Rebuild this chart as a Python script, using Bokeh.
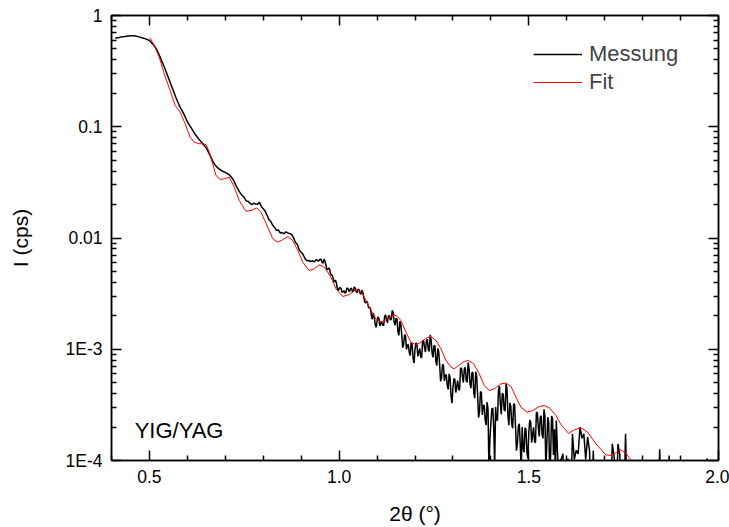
from bokeh.plotting import figure
from bokeh.models import Range1d, LogAxis, LinearAxis, FixedTicker, Legend, LegendItem, Label
from bokeh.embed import file_html
from bokeh.resources import INLINE

# ---------------- data ----------------
# Messung: 2theta (deg) and log10 of intensity (cps)
mess_x = [
    0.41, 0.42, 0.43, 0.44, 0.45, 0.46, 0.47, 0.48, 0.49, 0.50,
    0.51, 0.52, 0.53, 0.54, 0.55, 0.56, 0.57, 0.58, 0.59, 0.60,
    0.61, 0.62, 0.63, 0.64, 0.65, 0.66, 0.67, 0.68, 0.69, 0.70,
    0.71, 0.72, 0.73, 0.74,
    0.750, 0.755, 0.760, 0.765, 0.770, 0.775, 0.780, 0.785, 0.790, 0.795,
    0.800, 0.805, 0.810, 0.815, 0.820, 0.825, 0.830, 0.835, 0.840, 0.845,
    0.850, 0.855, 0.860, 0.865, 0.870, 0.875, 0.880, 0.885, 0.890, 0.895,
    0.900, 0.905, 0.910, 0.915, 0.920, 0.925, 0.930, 0.935, 0.940, 0.945,
    0.950, 0.955, 0.960, 0.965, 0.970, 0.975, 0.980, 0.985, 0.990, 0.995,
    1.000, 1.005, 1.010, 1.015, 1.020, 1.025, 1.030, 1.035, 1.040, 1.045,
    1.050, 1.055, 1.060, 1.065, 1.070, 1.075, 1.080, 1.085, 1.090, 1.095,
    1.100, 1.105, 1.110, 1.115, 1.120, 1.125, 1.130, 1.135, 1.140, 1.145,
    1.150, 1.155, 1.160, 1.165, 1.170, 1.175, 1.180, 1.185, 1.190, 1.195,
    1.200, 1.205, 1.210, 1.215, 1.220, 1.225, 1.230, 1.235, 1.240, 1.245,
    1.250, 1.255, 1.260, 1.265, 1.270, 1.275, 1.280, 1.285, 1.290, 1.295,
    1.300, 1.305, 1.310, 1.315, 1.320, 1.325, 1.330, 1.335, 1.340, 1.345,
    1.350, 1.355, 1.360, 1.365, 1.370, 1.375, 1.380, 1.385, 1.390, 1.395,
    1.400, 1.405, 1.410, 1.415, 1.420, 1.425, 1.430, 1.435, 1.440, 1.445,
    1.450, 1.455, 1.460, 1.465, 1.470, 1.475, 1.480, 1.485, 1.490, 1.495,
    1.500, 1.505, 1.510, 1.515, 1.520, 1.525, 1.530, 1.535, 1.540, 1.545,
    1.550, 1.555, 1.560, 1.565, 1.570, 1.575, 1.580, 1.585, 1.590, 1.595,
    1.600, 1.605, 1.610, 1.615, 1.620, 1.625, 1.630, 1.635, 1.640, 1.645,
    1.650, 1.655, 1.660, 1.665, 1.670, 1.675, 1.715, 1.720, 1.725, 1.730,
    1.735, 1.740, 1.745, 1.750, 1.755, 1.760, 1.840, 1.845, 1.850, 1.865,
    1.870, 1.875, 1.965, 1.970, 1.975,
]
mess_log = [
    -0.205, -0.198, -0.190, -0.186, -0.183, -0.183, -0.190, -0.200, -0.210, -0.225,
    -0.260, -0.310, -0.390, -0.470, -0.560, -0.650, -0.740, -0.820, -0.880, -0.955,
    -1.010, -1.065, -1.110, -1.150, -1.190, -1.260, -1.330, -1.370, -1.395, -1.410,
    -1.430, -1.470, -1.540, -1.600,
    -1.636, -1.667, -1.670, -1.687, -1.701, -1.687, -1.694, -1.697, -1.679, -1.718,
    -1.738, -1.758, -1.794, -1.835, -1.852, -1.886, -1.905, -1.931, -1.928, -1.955,
    -1.951, -1.962, -1.945, -1.954, -1.961, -1.969, -1.999, -2.040, -2.059, -2.108,
    -2.128, -2.148, -2.184, -2.205, -2.202, -2.211, -2.205, -2.213, -2.193, -2.209,
    -2.192, -2.220, -2.190, -2.240, -2.283, -2.283, -2.328, -2.375, -2.378, -2.448,
    -2.455, -2.453, -2.483, -2.492, -2.452, -2.470, -2.455, -2.478, -2.440, -2.483,
    -2.463, -2.495, -2.470, -2.530, -2.583, -2.583, -2.625, -2.695, -2.675, -2.775,
    -2.750, -2.725, -2.765, -2.785, -2.705, -2.735, -2.700, -2.735, -2.650, -2.755,
    -2.723, -2.839, -2.748, -2.868, -2.961, -2.880, -2.961, -3.031, -2.939, -3.083,
    -3.002, -2.956, -3.027, -3.067, -2.927, -2.984, -2.924, -3.005, -2.870, -3.034,
    -2.967, -3.106, -2.992, -3.142, -3.259, -3.145, -3.229, -3.324, -3.221, -3.422,
    -3.348, -3.269, -3.333, -3.363, -3.173, -3.246, -3.176, -3.280, -3.120, -3.311,
    -3.212, -3.391, -3.202, -3.407, -3.564, -3.390, -3.504, -3.634, -3.476, -4.100,
    -3.668, -3.529, -4.050, -3.643, -3.368, -3.486, -3.396, -3.545, -3.310, -3.596,
    -3.482, -3.671, -3.492, -3.692, -3.844, -3.670, -4.100, -3.889, -3.706, -3.927,
    -3.748, -3.654, -3.768, -3.828, -3.568, -3.696, -3.616, -3.770, -3.540, -4.100,
    -3.610, -4.100, -3.600, -3.950, -4.100, -3.870, -4.100, -3.990, -3.940, -4.500,
    -3.990, -3.990, -4.500, -3.760, -3.990, -3.910, -3.940, -3.700, -3.800, -3.760,
    -3.990, -3.790, -3.910, -4.500, -3.910, -4.500, -4.500, -3.850, -3.970, -4.500,
    -3.850, -3.950, -4.500, -4.500, -3.760, -4.500, -4.500, -3.900, -4.500, -4.500,
    -3.955, -4.500, -4.500, -3.980, -4.500,
]
# Messung: further points read between the ones above (noisy part)
mess_x_mid = [
    0.9525, 0.9575, 0.9625, 0.9675, 0.9725, 0.9775, 0.9825, 0.9875, 0.9925, 0.9975,
    1.0025, 1.0075, 1.0125, 1.0175, 1.0225, 1.0275, 1.0325, 1.0375, 1.0425, 1.0475,
    1.0525, 1.0575, 1.0625, 1.0675, 1.0725, 1.0775, 1.0825, 1.0875, 1.0925, 1.0975,
    1.1025, 1.1075, 1.1125, 1.1175, 1.1225, 1.1275, 1.1325, 1.1375, 1.1425, 1.1475,
    1.1525, 1.1575, 1.1625, 1.1675, 1.1725, 1.1775, 1.1825, 1.1875, 1.1925, 1.1975,
    1.2025, 1.2075, 1.2125, 1.2175, 1.2225, 1.2275, 1.2325, 1.2375, 1.2425, 1.2475,
    1.2525, 1.2575, 1.2625, 1.2675, 1.2725, 1.2775, 1.2825, 1.2875, 1.2925, 1.2975,
    1.3025, 1.3075, 1.3125, 1.3175, 1.3225, 1.3275, 1.3325, 1.3375, 1.3425, 1.3475,
    1.3525, 1.3575, 1.3625, 1.3675, 1.3725, 1.3775, 1.3825, 1.3875, 1.3925, 1.3975,
    1.4025, 1.4075, 1.4125, 1.4175, 1.4225, 1.4275, 1.4325, 1.4375, 1.4425, 1.4475,
    1.4525, 1.4575, 1.4625, 1.4675, 1.4725, 1.4775, 1.4825, 1.4875, 1.4925, 1.4975,
    1.5025, 1.5075, 1.5125, 1.5175, 1.5225, 1.5275, 1.5325, 1.5375, 1.5425, 1.5475,
    1.5525, 1.5575, 1.5625, 1.5675, 1.5725, 1.5775,
]
mess_log_mid = [
    -2.191, -2.227, -2.205, -2.282, -2.268, -2.328, -2.342, -2.397, -2.398, -2.474,
    -2.444, -2.488, -2.473, -2.494, -2.451, -2.483, -2.452, -2.481, -2.452, -2.493,
    -2.464, -2.505, -2.490, -2.577, -2.568, -2.626, -2.630, -2.730, -2.705, -2.803,
    -2.708, -2.790, -2.755, -2.785, -2.690, -2.763, -2.698, -2.733, -2.673, -2.784,
    -2.727, -2.875, -2.772, -2.987, -2.867, -3.002, -2.960, -3.057, -2.957, -3.124,
    -2.943, -3.064, -2.993, -3.078, -2.920, -3.026, -2.910, -3.019, -2.916, -3.073,
    -2.970, -3.148, -3.023, -3.289, -3.136, -3.286, -3.233, -3.361, -3.256, -3.484,
    -3.265, -3.389, -3.282, -3.367, -3.166, -3.299, -3.162, -3.299, -3.172, -3.350,
    -3.206, -3.440, -3.240, -3.614, -3.381, -3.591, -3.505, -3.683, -3.540, -3.800,
    -3.535, -3.700, -3.520, -3.634, -3.331, -3.585, -3.407, -3.556, -3.357, -3.683,
    -3.513, -3.710, -3.496, -3.912, -3.693, -3.860, -3.700, -3.926, -3.720, -3.980,
    -3.637, -3.839, -3.702, -3.842, -3.568, -3.784, -3.597, -3.800, -3.600, -3.850,
    -3.660, -3.950, -3.620, -3.720, -3.640, -4.100,
]

# Fit: 2theta (deg) and log10 of intensity (cps)
fit_x = [
    0.501, 0.513, 0.526, 0.539, 0.5546, 0.5633, 0.5678, 0.5745, 0.5810, 0.5942,
    0.6073, 0.6182, 0.6314, 0.6404, 0.6491, 0.6578, 0.6667, 0.6754, 0.6868, 0.6973,
    0.7105, 0.7237, 0.7368, 0.7500, 0.7545, 0.7677, 0.783, 0.794, 0.803, 0.812,
    0.825, 0.838, 0.851, 0.8645, 0.8775, 0.891, 0.904, 0.921, 0.9345, 0.9477,
    0.961, 0.9785, 0.9917, 1.0094, 1.027, 1.047, 1.062, 1.0795, 1.097, 1.112,
    1.128, 1.144, 1.153, 1.163, 1.1762, 1.1894, 1.2026, 1.2158, 1.2290, 1.2421,
    1.2553, 1.2685, 1.2817, 1.2949, 1.3035, 1.3167, 1.3299, 1.3415, 1.3547, 1.3694,
    1.3826, 1.3958, 1.4090, 1.4266, 1.4398, 1.4530, 1.4662, 1.4793, 1.4952, 1.5102,
    1.5276, 1.5407, 1.5539, 1.5716, 1.585, 1.605, 1.6198, 1.6375, 1.655, 1.677,
    1.703, 1.718, 1.741, 1.756, 1.769, 1.780,
]
fit_log = [
    -0.200, -0.270, -0.375, -0.524, -0.674, -0.764, -0.809, -0.839, -0.869, -0.973,
    -1.094, -1.139, -1.153, -1.153, -1.160, -1.229, -1.333, -1.438, -1.474, -1.468,
    -1.453, -1.543, -1.663, -1.738, -1.759, -1.753, -1.729, -1.768, -1.835, -1.903,
    -2.007, -2.037, -2.016, -1.987, -2.022, -2.112, -2.217, -2.292, -2.277, -2.241,
    -2.262, -2.352, -2.457, -2.526, -2.508, -2.457, -2.502, -2.622, -2.727, -2.757,
    -2.727, -2.688, -2.705, -2.742, -2.847, -2.937, -2.960, -2.937, -2.901, -2.885,
    -2.921, -2.996, -3.101, -3.161, -3.176, -3.140, -3.110, -3.101, -3.131, -3.221,
    -3.326, -3.371, -3.355, -3.311, -3.305, -3.335, -3.431, -3.521, -3.566, -3.551,
    -3.515, -3.506, -3.526, -3.596, -3.680, -3.757, -3.724, -3.706, -3.745, -3.850,
    -3.949, -3.955, -3.904, -3.934, -3.994, -4.080,
]

x_ticks = [0.5, 1.0, 1.5, 2.0]
x_tick_labels = ["0.5", "1.0", "1.5", "2.0"]
x_minor = [0.4, 0.6, 0.7, 0.8, 0.9, 1.1, 1.2, 1.3, 1.4, 1.6, 1.7, 1.8, 1.9]
y_ticks = [1e-4, 1e-3, 1e-2, 1e-1, 1.0]
y_tick_labels = ["1E-4", "1E-3", "0.01", "0.1", "1"]
y_minor = [m * d for d in (1e-4, 1e-3, 1e-2, 1e-1) for m in range(2, 10)]

series_names = ["Messung", "Fit"]
annotation_text = "YIG/YAG"

# ---------------- figure ----------------
FONT = "Liberation Sans"
pts = sorted(zip(mess_x + mess_x_mid, mess_log + mess_log_mid))
mx = [a for a, _ in pts]
my = [10 ** b for _, b in pts]
fy = [10 ** v for v in fit_log]

p = figure(width=729, height=527, x_range=Range1d(0.4, 2.0), y_range=Range1d(1e-4, 1.0),
           y_axis_type="log", output_backend="svg", toolbar_location=None,
           min_border_left=111, min_border_right=11, min_border_top=15, min_border_bottom=67)
p.xgrid.visible = False
p.ygrid.visible = False
p.outline_line_color = "black"
p.outline_line_width = 1.5
p.background_fill_color = "white"
p.border_fill_color = "white"


def style_axis(ax):
    ax.axis_line_width = 1.5
    ax.axis_line_color = "black"
    ax.major_tick_in = 10
    ax.major_tick_out = 0
    ax.minor_tick_in = 5
    ax.minor_tick_out = 0
    ax.major_tick_line_width = 1.5
    ax.minor_tick_line_width = 1.5
    ax.major_tick_line_color = "black"
    ax.minor_tick_line_color = "black"
    ax.major_label_text_font = FONT
    ax.major_label_text_font_size = "17.5px"
    ax.major_label_text_color = "black"
    ax.axis_label_text_font = FONT
    ax.axis_label_text_font_size = "21px"
    ax.axis_label_text_font_style = "normal"
    ax.axis_label_text_color = "black"


xa = p.xaxis[0]
ya = p.yaxis[0]
style_axis(xa)
style_axis(ya)
xa.ticker = FixedTicker(ticks=x_ticks, minor_ticks=x_minor)
xa.major_label_overrides = {t: l for t, l in zip(x_ticks, x_tick_labels)}
xa.axis_label = "2θ (°)"
xa.major_label_standoff = 9
xa.axis_label_standoff = 16
ya.ticker = FixedTicker(ticks=y_ticks, minor_ticks=y_minor)
ya.major_label_overrides = {t: l for t, l in zip(y_ticks, y_tick_labels)}
ya.axis_label = "I (cps)"
ya.major_label_standoff = 9
ya.axis_label_standoff = 31

# mirrored tick marks on the top and right edges (no labels)
top = LinearAxis(ticker=FixedTicker(ticks=x_ticks, minor_ticks=x_minor))
style_axis(top)
top.major_label_text_font_size = "1px"
top.major_label_text_color = None
top.major_label_standoff = 0
p.add_layout(top, "above")

right = LogAxis(ticker=FixedTicker(ticks=y_ticks, minor_ticks=y_minor))
style_axis(right)
right.major_label_text_font_size = "1px"
right.major_label_text_color = None
right.major_label_standoff = 0
p.add_layout(right, "right")

r_mess = p.line(mx, my, line_color="black", line_width=1.5)
r_fit = p.line(fit_x, fy, line_color="red", line_width=1.0)

legend = Legend(items=[LegendItem(label=series_names[0], renderers=[r_mess]),
                       LegendItem(label=series_names[1], renderers=[r_fit])],
                location=(422, 365), glyph_width=49, glyph_height=20, label_standoff=7,
                spacing=2, padding=0, margin=0, border_line_alpha=0,
                background_fill_alpha=0, label_text_font=FONT, label_text_font_size="22px")
p.add_layout(legend)

p.add_layout(Label(x=0.461, y=1.87e-4, text=annotation_text, text_font=FONT,
                   text_font_size="22px", text_baseline="alphabetic", text_color="black"))

open("out.html", "w").write(file_html(p, INLINE))
